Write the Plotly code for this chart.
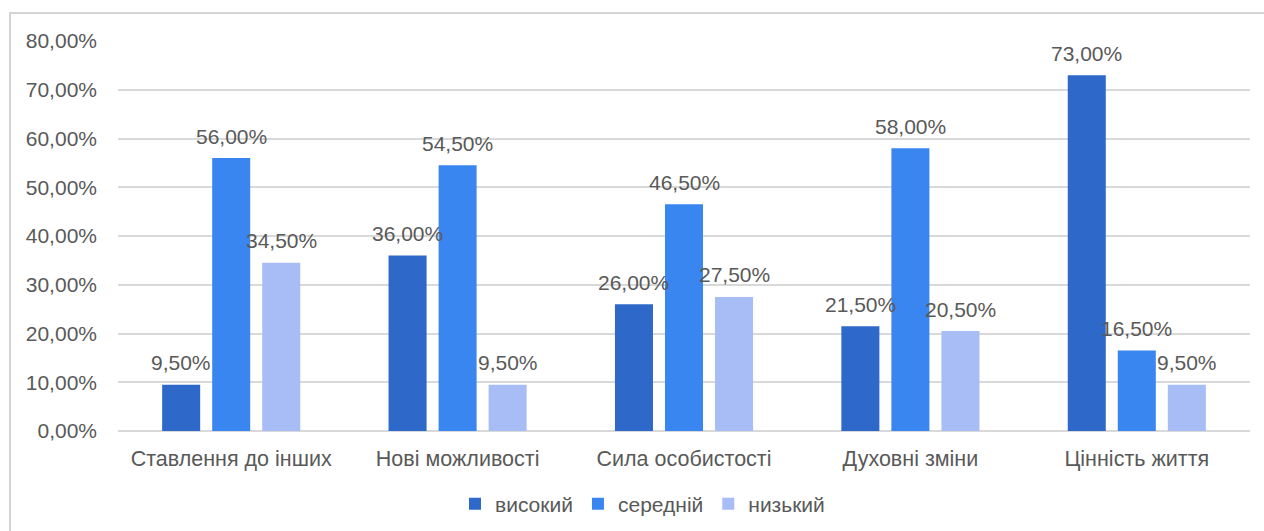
import plotly.graph_objects as go

categories = ["Ставлення до інших", "Нові можливості", "Сила особистості", "Духовні зміни", "Цінність життя"]
series_names = ["високий", "середній", "низький"]
high = [9.5, 36.0, 26.0, 21.5, 73.0]
mid = [56.0, 54.5, 46.5, 58.0, 16.5]
low = [34.5, 9.5, 27.5, 20.5, 9.5]
tick_vals = [0, 10, 20, 30, 40, 50, 60, 70, 80]
tick_text = ["0,00%", "10,00%", "20,00%", "30,00%", "40,00%", "50,00%", "60,00%", "70,00%", "80,00%"]

colors = ["#2E69C9", "#3A86F0", "#A8BDF6"]
FONT = "Liberation Sans, Arial, sans-serif"
TXT = "#595959"

BARGAP = 0.337
BARGROUPGAP = 0.24

fig = go.Figure()
all_series = [high, mid, low]
for name, vals, col in zip(series_names, all_series, colors):
    fig.add_trace(go.Bar(
        x=categories, y=vals, name=name, marker_color=col, marker_line_width=0,
    ))

# data labels positioned on the bar tops using the axis scales
slot = (1 - BARGAP) / len(all_series)
annotations = []
for k, vals in enumerate(all_series):
    off = (k - (len(all_series) - 1) / 2) * slot
    for i, v in enumerate(vals):
        annotations.append(dict(
            x=i + off, y=v, xref="x", yref="y",
            text=f"{v:.2f}%".replace(".", ","), showarrow=False,
            yanchor="middle", yshift=22,
            font=dict(size=21, color=TXT, family=FONT),
        ))

L, R, T, B = 118, 14, 41, 100
W, H = 1264, 531
pw = W - L - R
ph = H - T - B

fig.update_layout(
    width=W, height=H,
    margin=dict(l=L, r=R, t=T, b=B, autoexpand=False),
    paper_bgcolor="white", plot_bgcolor="white",
    barmode="group", bargap=BARGAP, bargroupgap=BARGROUPGAP,
    font=dict(family=FONT, color=TXT, size=21),
    showlegend=True,
    legend=dict(orientation="h", x=(455 - L) / pw, xanchor="left",
                y=(431 - 504) / ph, yanchor="middle",
                font=dict(size=21, color=TXT, family=FONT),
                itemwidth=30, tracegroupgap=0),
    xaxis=dict(showgrid=False, showline=False, ticks="",
               tickfont=dict(size=21.5, color=TXT), ticklabelstandoff=12,
               fixedrange=True),
    yaxis=dict(range=[0, 80], tickvals=tick_vals, ticktext=tick_text,
               showgrid=True, gridcolor="#D9D9D9", gridwidth=1.5,
               zeroline=True, zerolinecolor="#D9D9D9", zerolinewidth=1.5,
               showline=False, ticks="", ticklabelstandoff=20,
               tickfont=dict(size=21, color=TXT)),
    annotations=annotations,
    shapes=[dict(type="rect", xref="paper", yref="paper",
                 x0=(10 - L) / pw, x1=(W + 5 - L) / pw,
                 y0=(431 - H - 10) / ph, y1=(431 - 13) / ph,
                 line=dict(color="#D4D4D4", width=2), fillcolor="rgba(0,0,0,0)",
                 layer="below")],
)

fig.write_html("out.html")
